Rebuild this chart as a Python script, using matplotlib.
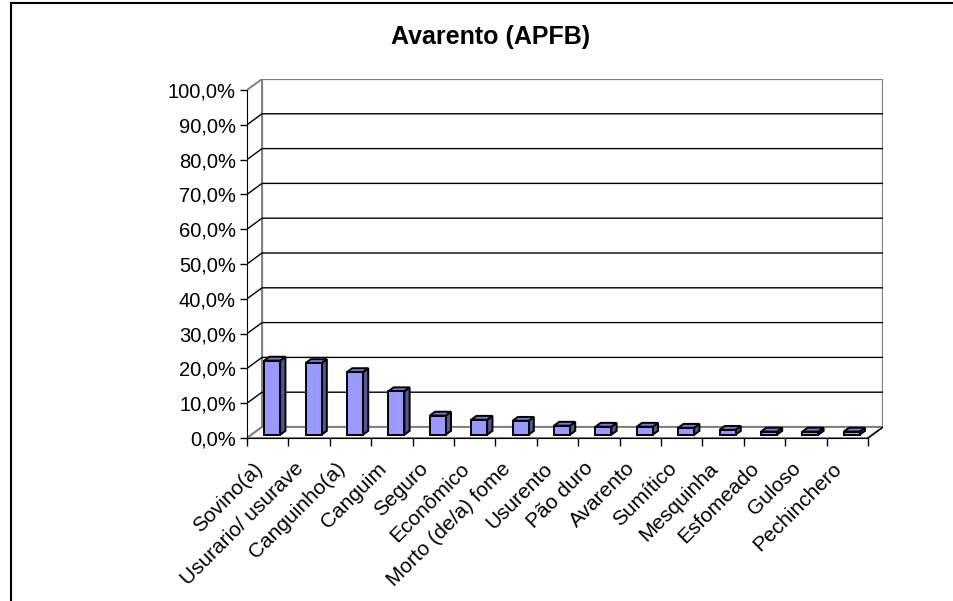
import numpy as np
import matplotlib.pyplot as plt
from matplotlib.patches import Polygon
from matplotlib.lines import Line2D
from matplotlib.transforms import ScaledTranslation

# ---------------- data ----------------
categories = ["Sovino(a)", "Usurario/ usurave", "Canguinho(a)", "Canguim",
              "Seguro", "Econômico", "Morto (de/a) fome", "Usurento",
              "Pão duro", "Avarento", "Sumítico", "Mesquinha",
              "Esfomeado", "Guloso", "Pechinchero"]
values = [21.3, 20.6, 18.0, 12.5, 5.5, 4.3, 4.0, 2.6,
          2.3, 2.3, 2.0, 1.4, 0.9, 0.9, 0.9]
y_ticks = [0, 10, 20, 30, 40, 50, 60, 70, 80, 90, 100]
y_labels = [f"{t:.1f}%".replace(".", ",") for t in y_ticks]
title = "Avarento (APFB)"

plt.rcParams['font.family'] = ['Liberation Sans', 'DejaVu Sans']

# ---------------- geometry (pseudo 3D) ----------------
W, H = 954, 601
px_cat = 41.4      # pixels per category slot
px_pct = 3.48      # pixels per percent
dx = 15 / px_cat   # depth offset in data units
dy = 11 / px_pct
n = len(categories)
x0, y0 = 247, 438  # front origin in pixels (from top-left)

fig = plt.figure(figsize=(W / 100, H / 100), dpi=100)
ax = fig.add_axes([x0 / W, 1 - y0 / H,
                   (n + dx) * px_cat / W, (100 + dy) * px_pct / H])
ax.set_xlim(0, n + dx)
ax.set_ylim(0, 100 + dy)
ax.patch.set_visible(False)

wall = '#808080'
# back wall, side wall, floor
ax.add_patch(Polygon([(dx, dy), (n + dx, dy), (n + dx, 100 + dy), (dx, 100 + dy)],
                     closed=True, facecolor='white', edgecolor=wall, lw=1.6, zorder=1))
ax.add_patch(Polygon([(0, 0), (dx, dy), (dx, 100 + dy), (0, 100)],
                     closed=True, facecolor='white', edgecolor=wall, lw=1.4, zorder=1))
ax.add_patch(Polygon([(0, 0), (n, 0), (n + dx, dy), (dx, dy)],
                     closed=True, facecolor='white', edgecolor=wall, lw=1.4, zorder=1))

# gridlines on the walls
for t in y_ticks[1:-1]:
    ax.plot([0, dx, n + dx], [t, t + dy, t + dy], color='black', lw=1.0, zorder=2)
ax.plot([n, n + dx], [0, dy], color='black', lw=1.0, zorder=2)

# bars
front_c, side_c, top_c = '#9999FF', '#55558F', '#7A7AC8'
w = 0.386
bf, bb = 0.30, 0.65
ddx, ddy = (bb - bf) * dx, (bb - bf) * dy
centers = np.arange(n) + 0.5
ax.bar(centers + bf * dx, values, width=w, bottom=bf * dy,
       color=front_c, edgecolor='black', lw=1.4, zorder=5)
for cx, v in zip(centers, values):
    xl = cx + bf * dx - w / 2
    yb = bf * dy
    ax.add_patch(Polygon([(xl + w, yb), (xl + w + ddx, yb + ddy),
                          (xl + w + ddx, yb + v + ddy), (xl + w, yb + v)],
                         closed=True, facecolor=side_c, edgecolor='black', lw=1.4, zorder=4))
    ax.add_patch(Polygon([(xl, yb + v), (xl + w, yb + v),
                          (xl + w + ddx, yb + v + ddy), (xl + ddx, yb + v + ddy)],
                         closed=True, facecolor=top_c, edgecolor='black', lw=1.4, zorder=4))

# axes
for s in ['top', 'right']:
    ax.spines[s].set_visible(False)
ax.spines['left'].set_bounds(0, 100)
ax.spines['bottom'].set_bounds(0, n)
ax.spines['left'].set_zorder(6)
ax.spines['bottom'].set_zorder(6)

ax.set_yticks(y_ticks)
ax.set_yticklabels(y_labels)
ax.tick_params(axis='y', length=5, width=1, labelsize=14.5, pad=3)

ax.set_xticks(np.arange(n + 1))
ax.set_xticklabels([])
ax.tick_params(axis='x', which='major', length=6, width=1)
ax.set_xticks(centers, minor=True)
ax.set_xticklabels(categories, minor=True)
ax.tick_params(axis='x', which='minor', length=0, labelsize=15, pad=15)
shift = ScaledTranslation(-15 / 100, 0, fig.dpi_scale_trans)
for lbl in ax.get_xticklabels(minor=True):
    lbl.set_rotation(45)
    lbl.set_ha('right')
    lbl.set_va('top')
    lbl.set_rotation_mode('anchor')
    lbl.set_transform(lbl.get_transform() + shift)

# title and outer frame
fig.text(491 / W, 1 - 37 / H, title, ha='center', va='center',
         fontsize=18, fontweight='bold')
fig.add_artist(Line2D([11 / W, 11 / W], [0, 1 - 3 / H], color='black', lw=1.5))
fig.add_artist(Line2D([11 / W, 1], [1 - 3 / H, 1 - 3 / H], color='black', lw=1.5))

fig.savefig('out.png', dpi=100)
